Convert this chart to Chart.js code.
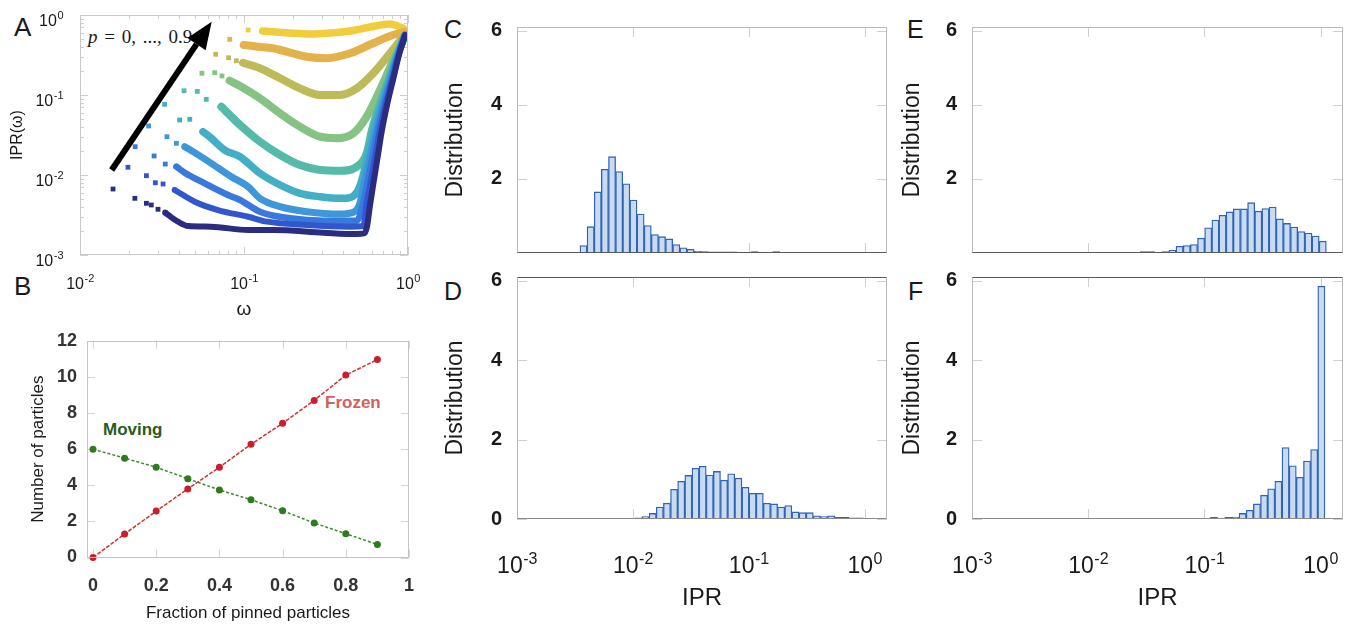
<!DOCTYPE html>
<html>
<head>
<meta charset="utf-8">
<script src="https://cdn.jsdelivr.net/npm/chart.js@4.4.0/dist/chart.umd.min.js"></script>
<style>
  body { margin: 0; background: #fff; }
  #page { position: relative; width: 1345px; height: 624px; overflow: hidden; font-family: "Liberation Sans", Arial, sans-serif; color: #1a1a1a; }
  canvas { position: absolute; }
  .lbl { position: absolute; white-space: nowrap; line-height: 1; }
</style>
</head>
<body>
<div id="page">
  <div class="lbl" style="left:14px;top:14px;font-size:26px">A</div>
  <div class="lbl" style="left:14px;top:273px;font-size:26px">B</div>
  <div class="lbl" style="left:444px;top:17px;font-size:25px">C</div>
  <div class="lbl" style="left:444px;top:279px;font-size:25px">D</div>
  <div class="lbl" style="left:907px;top:17px;font-size:25px">E</div>
  <div class="lbl" style="left:908px;top:279px;font-size:25px">F</div>
  <div class="lbl" style="left:88px;top:27px;font-size:19px;word-spacing:2px;font-family:'Liberation Serif',serif"><i>p</i> = 0, ..., 0.9</div>
  <div class="lbl" style="left:103px;top:421px;font-size:17px;font-weight:bold;color:#2b5b1c">Moving</div>
  <div class="lbl" style="left:325px;top:394px;font-size:17px;font-weight:bold;color:#d5605a">Frozen</div>

  <canvas id="chartA" width="440" height="325" style="left:0;top:0"></canvas>
  <canvas id="chartB" width="440" height="304" style="left:0;top:320px"></canvas>
  <canvas id="chartC" width="470" height="280" style="left:430px;top:0"></canvas>
  <canvas id="chartD" width="470" height="374" style="left:430px;top:250px"></canvas>
  <canvas id="chartE" width="455" height="280" style="left:890px;top:0"></canvas>
  <canvas id="chartF" width="455" height="374" style="left:890px;top:250px"></canvas>
</div>
<script>
// ---- panel A : IPR(omega), p = 0 ... 0.9  ([omega, IPR] pairs)
const omegaTicks = [0.01, 0.1, 1];
const omegaExponents = ['-2', '-1', '0'];
const iprTicks = [0.001, 0.01, 0.1, 1];
const iprExponents = ['-3', '-2', '-1', '0'];

const p0Sparse = [[0.0159,0.00668],[0.0216,0.00511],[0.0254,0.00443],[0.0272,0.00422],[0.0299,0.00373],[0.0331,0.00338]];
const p0Band = [[0.0331,0.00338],[0.0396,0.00261],[0.0456,0.0023],[0.0629,0.00226],[0.106,0.00205],[0.151,0.00205],[0.305,0.0019],[0.487,0.00183],[0.54,0.00186],[0.562,0.00225],[0.587,0.00422],[0.62,0.00866],[0.656,0.0178],[0.694,0.0365],[0.745,0.075],[0.81,0.154],[0.881,0.316],[0.959,0.562]];
const p1Sparse = [[0.0196,0.0125],[0.0254,0.0098],[0.0288,0.008],[0.0321,0.00772],[0.0378,0.00649]];
const p1Band = [[0.0378,0.00649],[0.0501,0.00464],[0.0694,0.00365],[0.106,0.00301],[0.138,0.00261],[0.241,0.00237],[0.443,0.00226],[0.534,0.0023],[0.558,0.00422],[0.595,0.00866],[0.634,0.0178],[0.675,0.0365],[0.729,0.075],[0.8,0.154],[0.876,0.316],[0.959,0.562]];
const p2Sparse = [[0.0217,0.0226],[0.0283,0.0173],[0.0331,0.0137],[0.0387,0.0127]];
const p2Band = [[0.0387,0.0127],[0.0435,0.0107],[0.0576,0.00787],[0.0799,0.00562],[0.0946,0.00487],[0.125,0.00348],[0.191,0.00288],[0.305,0.00268],[0.487,0.00268],[0.53,0.00422],[0.57,0.00866],[0.611,0.0178],[0.656,0.0365],[0.715,0.075],[0.789,0.154],[0.872,0.316],[0.959,0.562]];
const p3Sparse = [[0.0262,0.041],[0.0339,0.0301],[0.0387,0.0249],[0.0435,0.0226]];
const p3Band = [[0.0435,0.0226],[0.0489,0.0196],[0.0632,0.014],[0.0837,0.00952],[0.106,0.00714],[0.125,0.00511],[0.166,0.00402],[0.241,0.00348],[0.385,0.00325],[0.469,0.00345],[0.505,0.00422],[0.546,0.00866],[0.59,0.0178],[0.638,0.0365],[0.7,0.075],[0.779,0.154],[0.865,0.316],[0.959,0.562]];
const p4Sparse = [[0.0328,0.0765],[0.0405,0.0487],[0.0467,0.0497],[0.0562,0.0348]];
const p4Band = [[0.0562,0.0348],[0.0632,0.0288],[0.0762,0.0205],[0.0946,0.0169],[0.125,0.0105],[0.166,0.0075],[0.2195,0.0059],[0.2905,0.00535],[0.385,0.00511],[0.443,0.00523],[0.489,0.00613],[0.523,0.00866],[0.57,0.0178],[0.62,0.0365],[0.685,0.075],[0.768,0.154],[0.861,0.316],[0.959,0.562]];
const p5Sparse = [[0.0431,0.113],[0.0519,0.111],[0.0589,0.0883],[0.0727,0.0714]];
const p5Band = [[0.0727,0.0714],[0.0878,0.0487],[0.0946,0.0422],[0.125,0.0261],[0.166,0.0178],[0.2195,0.0133],[0.2905,0.01155],[0.385,0.0113],[0.487,0.0127],[0.56,0.0187],[0.603,0.0365],[0.671,0.075],[0.758,0.154],[0.856,0.316],[0.959,0.562]];
const p6Sparse = [[0.0554,0.187],[0.0663,0.19],[0.0734,0.173],[0.0818,0.151]];
const p6Band = [[0.0818,0.151],[0.0963,0.127],[0.125,0.091],[0.166,0.059],[0.2195,0.0402],[0.2905,0.0301],[0.367,0.0288],[0.464,0.0332],[0.56,0.0536],[0.675,0.1155],[0.814,0.274],[0.959,0.536]];
const p7Sparse = [[0.0672,0.323],[0.0806,0.292],[0.0898,0.268],[0.0986,0.253]];
const p7Band = [[0.0986,0.253],[0.125,0.216],[0.166,0.162],[0.2195,0.121],[0.2905,0.1],[0.385,0.1],[0.487,0.121],[0.614,0.187],[0.777,0.332],[0.936,0.536]];
const p8Sparse = [[0.0818,0.497],[0.0996,0.422]];
const p8Band = [[0.0996,0.422],[0.122,0.402],[0.15,0.384],[0.241,0.301],[0.319,0.288],[0.443,0.332],[0.612,0.443],[0.81,0.562],[0.959,0.618]];
const p9Sparse = [[0.106,0.649],[0.13,0.631]];
const p9Band = [[0.13,0.631],[0.15,0.618],[0.191,0.596],[0.252,0.579],[0.334,0.596],[0.443,0.631],[0.587,0.708],[0.777,0.772],[0.932,0.688]];

const arrowFrom = [0.0156, 0.01155];
const arrowTo = [0.0635, 0.824];

// ---- panel B
const pinnedFraction = [0, 0.1, 0.2, 0.3, 0.4, 0.5, 0.6, 0.7, 0.8, 0.9];
const frozenCount = [0, 1.3, 2.57, 3.8, 5.0, 6.27, 7.43, 8.7, 10.1, 10.96];
const movingCount = [6.0, 5.5, 5.0, 4.36, 3.74, 3.2, 2.59, 1.91, 1.32, 0.72];
const fractionTicks = [0, 0.2, 0.4, 0.6, 0.8, 1];
const fractionTickLabels = ['0', '0.2', '0.4', '0.6', '0.8', '1'];
const countTicks = [0, 2, 4, 6, 8, 10, 12];

// ---- panels C-F : histograms of IPR, bins of equal width in log10(IPR)
const binWidth = 0.0616;
const histCStart = -2.457;
const histC = [0.2, 0.71, 1.65, 2.26, 2.6, 2.2, 1.87, 1.43, 1.05, 0.74, 0.5, 0.44, 0.38, 0.23, 0.14, 0.1, 0.05, 0.04, 0.03, 0.03, 0.03, 0.03, 0, 0, 0.04, 0, 0, 0.04];
const histDStart = -1.983;
const histD = [0.03, 0.06, 0.14, 0.3, 0.4, 0.75, 0.95, 1.1, 1.28, 1.33, 1.11, 1.2, 0.98, 1.14, 1.03, 0.8, 0.65, 0.65, 0.4, 0.38, 0.3, 0.34, 0.18, 0.16, 0.16, 0.08, 0.06, 0.08, 0.04, 0.04, 0.03, 0.03];
const histEStart = -1.552;
const histE = [0.04, 0.04, 0, 0.04, 0.08, 0.18, 0.2, 0.23, 0.4, 0.68, 0.89, 1.02, 1.11, 1.19, 1.19, 1.36, 1.13, 1.2, 1.24, 0.92, 0.8, 0.7, 0.58, 0.54, 0.46, 0.32];
const histFStart = -0.948;
const histF = [0.04, 0, 0.04, 0.05, 0.14, 0.22, 0.38, 0.6, 0.76, 0.95, 1.8, 1.34, 1.05, 1.46, 1.75, 5.87];
const distTicksUpper = [2, 4, 6];
const distTicksLower = [0, 2, 4, 6];

const curveColors = ['#2b2c80', '#3157cc', '#3978dc', '#3d97d8', '#42afc4', '#55bba8', '#86c284', '#bdbb58', '#e4b24a', '#f1cd3c'];
const bandWidths = [6, 6, 6.5, 7, 7.5, 8, 8, 8, 8, 7.5];

Chart.defaults.font.family = '"Liberation Sans", Arial, sans-serif';
Chart.defaults.color = '#1a1a1a';
Chart.defaults.animation = false;
Chart.defaults.plugins.legend.display = false;
Chart.defaults.plugins.tooltip.enabled = false;

// box with small inward ticks, like the original plots
const framePlugin = {
  id: 'frame',
  defaults: { tickColor: '#cdcdcd', box: '#bdbdbd', len: 8, minor: false },
  beforeDatasetsDraw(chart, args, o) {
    const { ctx, chartArea: a } = chart;
    const marks = (scale, horizontal) => {
      const list = scale.ticks.map(t => [t.value, o.len]);
      if (o.minor && scale.type === 'logarithmic') {
        for (let e = Math.floor(Math.log10(scale.min)); e < Math.ceil(Math.log10(scale.max)); e++) {
          for (let k = 2; k < 10; k++) {
            const v = k * Math.pow(10, e);
            if (v > scale.min && v < scale.max) list.push([v, o.len / 2]);
          }
        }
      }
      list.forEach(([v, len]) => {
        const p = Math.round(scale.getPixelForValue(v)) + 0.5;
        if (horizontal) {
          ctx.moveTo(p, a.bottom); ctx.lineTo(p, a.bottom - len);
          ctx.moveTo(p, a.top); ctx.lineTo(p, a.top + len);
        } else {
          ctx.moveTo(a.left, p); ctx.lineTo(a.left + len, p);
          ctx.moveTo(a.right, p); ctx.lineTo(a.right - len, p);
        }
      });
    };
    ctx.save();
    ctx.strokeStyle = o.tickColor;
    ctx.lineWidth = 1;
    ctx.beginPath();
    marks(chart.scales.x, true);
    marks(chart.scales.y, false);
    ctx.stroke();
    ctx.restore();
  },
  afterDatasetsDraw(chart, args, o) {
    const { ctx, chartArea: a } = chart;
    const l = Math.round(a.left) + 0.5, r = Math.round(a.right) - 0.5;
    const t = Math.round(a.top) + 0.5, b = Math.round(a.bottom) - 0.5;
    const side = (c, x0, y0, x1, y1) => {
      ctx.strokeStyle = c;
      ctx.beginPath(); ctx.moveTo(x0, y0); ctx.lineTo(x1, y1); ctx.stroke();
    };
    ctx.save();
    ctx.lineWidth = 1;
    side(o.box, l, t, l, b);
    side(o.box, r, t, r, b);
    side(o.top || o.box, l, t, r, t);
    side(o.bottom || o.box, l, b, r, b);
    ctx.restore();
  }
};

// "10" with a raised exponent for the log-axis tick labels
const powerLabels = {
  id: 'powerLabels',
  afterDraw(chart, args, o) {
    const { ctx, chartArea: a } = chart;
    const fam = Chart.defaults.font.family;
    ['x', 'y'].forEach(axis => {
      const cfg = o[axis];
      if (!cfg) return;
      const scale = chart.scales[axis];
      const big = cfg.size, small = Math.round(cfg.size * 0.7);
      ctx.save();
      ctx.fillStyle = '#1a1a1a';
      ctx.textBaseline = 'middle';
      ctx.textAlign = 'left';
      scale.ticks.forEach((t, i) => {
        const p = scale.getPixelForValue(t.value);
        ctx.font = big + 'px ' + fam;
        const wb = ctx.measureText('10').width;
        ctx.font = small + 'px ' + fam;
        const we = ctx.measureText(cfg.exps[i]).width;
        let x0, yc;
        if (axis === 'x') { x0 = p - (wb + we) / 2; yc = a.bottom + cfg.pad; }
        else { x0 = a.left - cfg.pad - wb - we; yc = p + cfg.dy; }
        ctx.font = big + 'px ' + fam;
        ctx.fillText('10', x0, yc);
        ctx.font = small + 'px ' + fam;
        ctx.fillText(cfg.exps[i], x0 + wb + 0.5, yc - big * cfg.raise);
      });
      ctx.restore();
    });
  }
};
Chart.register(framePlugin, powerLabels);

const arrowPlugin = {
  id: 'arrow',
  afterDatasetsDraw(chart) {
    const { ctx, scales: { x, y } } = chart;
    const x0 = x.getPixelForValue(arrowFrom[0]), y0 = y.getPixelForValue(arrowFrom[1]);
    const x1 = x.getPixelForValue(arrowTo[0]), y1 = y.getPixelForValue(arrowTo[1]);
    const ang = Math.atan2(y1 - y0, x1 - x0);
    const head = 27, half = 11;
    const bx = x1 - head * Math.cos(ang), by = y1 - head * Math.sin(ang);
    ctx.save();
    ctx.strokeStyle = '#000';
    ctx.fillStyle = '#000';
    ctx.lineWidth = 6;
    ctx.beginPath(); ctx.moveTo(x0, y0); ctx.lineTo(bx, by); ctx.stroke();
    ctx.beginPath();
    ctx.moveTo(x1, y1);
    ctx.lineTo(bx + half * Math.sin(ang), by - half * Math.cos(ang));
    ctx.lineTo(bx - half * Math.sin(ang), by + half * Math.cos(ang));
    ctx.closePath(); ctx.fill();
    ctx.restore();
  }
};

const pts = arr => arr.map(([x, y]) => ({ x: x, y: y }));

// panel A
const sparseSets = [p0Sparse, p1Sparse, p2Sparse, p3Sparse, p4Sparse, p5Sparse, p6Sparse, p7Sparse, p8Sparse, p9Sparse];
const bandSets = [p0Band, p1Band, p2Band, p3Band, p4Band, p5Band, p6Band, p7Band, p8Band, p9Band];
const datasetsA = [];
for (let i = 0; i < 10; i++) {
  datasetsA.push({
    data: pts(sparseSets[i]), showLine: false, pointStyle: 'rect', pointRadius: 3.4,
    backgroundColor: curveColors[i], pointBackgroundColor: curveColors[i], pointBorderWidth: 0
  });
  datasetsA.push({
    data: pts(bandSets[i]), showLine: true, borderColor: curveColors[i], borderWidth: bandWidths[i],
    pointRadius: 0, cubicInterpolationMode: 'monotone', borderCapStyle: 'round', borderJoinStyle: 'round'
  });
}

new Chart(document.getElementById('chartA'), {
  type: 'scatter',
  data: { datasets: datasetsA },
  options: {
    responsive: false,
    layout: { padding: { top: 15, right: 32, left: 0, bottom: 0 } },
    scales: {
      x: {
        type: 'logarithmic', min: 0.01, max: 1,
        afterBuildTicks: s => { s.ticks = omegaTicks.map(v => ({ value: v })); },
        afterFit: s => { s.height = 70; },
        ticks: { display: false },
        grid: { display: false, drawTicks: false }, border: { display: false },
        title: { display: true, text: 'ω', font: { size: 19 }, padding: { top: 0, bottom: 4 } }
      },
      y: {
        type: 'logarithmic', min: 0.001, max: 1,
        afterBuildTicks: s => { s.ticks = iprTicks.map(v => ({ value: v })); },
        afterFit: s => { s.width = 80; },
        ticks: { display: false },
        grid: { display: false, drawTicks: false }, border: { display: false },
        title: { display: true, text: 'IPR(ω)', font: { size: 16 }, padding: { top: 8.4, bottom: 0 } }
      }
    },
    plugins: {
      frame: { minor: true, box: '#c8c8c8', tickColor: '#cfcfcf' },
      powerLabels: {
        x: { size: 16, pad: 30, exps: omegaExponents, raise: 0.4 },
        y: { size: 16, pad: 17, dy: 7, exps: iprExponents, raise: 0.4 }
      }
    }
  },
  plugins: [arrowPlugin]
});

// panel B
new Chart(document.getElementById('chartB'), {
  type: 'scatter',
  data: {
    datasets: [
      {
        data: pinnedFraction.map((f, i) => ({ x: f, y: frozenCount[i] })), showLine: true, clip: false,
        borderColor: '#d3302f', borderWidth: 1.5, borderDash: [4, 1.5],
        pointRadius: 3.5, pointBackgroundColor: '#c8202a', pointBorderWidth: 0
      },
      {
        data: pinnedFraction.map((f, i) => ({ x: f, y: movingCount[i] })), showLine: true, clip: false,
        borderColor: '#3f8a2a', borderWidth: 1.5, borderDash: [3, 2],
        pointRadius: 3.5, pointBackgroundColor: '#2f7a1e', pointBorderWidth: 0
      }
    ]
  },
  options: {
    responsive: false,
    layout: { padding: { top: 12.5, right: 31, left: 0, bottom: 0 } },
    scales: {
      x: {
        type: 'linear', min: -0.019, max: 1.0,
        afterBuildTicks: s => { s.ticks = fractionTicks.map(v => ({ value: v })); },
        afterFit: s => { s.height = 66.5; },
        ticks: { callback: (v, i) => fractionTickLabels[i], font: { size: 18, weight: 'bold' }, color: '#333', padding: 18, autoSkip: false, maxRotation: 0 },
        grid: { display: false, drawTicks: false }, border: { display: false },
        title: { display: true, text: 'Fraction of pinned particles', font: { size: 17 }, padding: { top: 0, bottom: 0 } }
      },
      y: {
        type: 'linear', min: 0, max: 12,
        afterBuildTicks: s => { s.ticks = countTicks.map(v => ({ value: v })); },
        afterFit: s => { s.width = 87; },
        ticks: { font: { size: 18, weight: 'bold' }, color: '#333', padding: 10 },
        grid: { display: false, drawTicks: false }, border: { display: false },
        title: { display: true, text: 'Number of particles', font: { size: 17 }, padding: { top: 27.8, bottom: 0 } }
      }
    },
    plugins: { frame: { box: '#c4c4c4', tickColor: '#d4d4d4' } }
  }
});

// panels C-F
function histogram(id, heights, startExp, lower, yWidth, titlePad, padRight) {
  const bins = heights.map((h, i) => ({ x: Math.pow(10, startExp + (i + 0.5) * binWidth), y: h }));
  return new Chart(document.getElementById(id), {
    type: 'bar',
    data: {
      datasets: [{
        data: bins, backgroundColor: '#c7dbf3', borderColor: '#3463b3', borderWidth: 1.35,
        borderSkipped: false, barPercentage: 1, categoryPercentage: 1
      }]
    },
    options: {
      responsive: false,
      layout: { padding: { top: lower ? 17.5 : 16, right: padRight, left: 0, bottom: 0 } },
      scales: {
        x: {
          type: 'logarithmic', min: 0.001, max: 1.56, offset: false,
          afterBuildTicks: s => { s.ticks = iprTicks.map(v => ({ value: v })); },
          afterFit: s => { s.height = lower ? 105 : 12.5; },
          ticks: { display: false },
          grid: { display: false, drawTicks: false, offset: false }, border: { display: false },
          title: { display: lower, text: 'IPR', font: { size: 24 }, padding: { top: 0, bottom: 11.6 } }
        },
        y: {
          type: 'linear', min: 0, max: 6.1,
          afterBuildTicks: s => { s.ticks = (lower ? distTicksLower : distTicksUpper).map(v => ({ value: v })); },
          afterFit: s => { s.width = yWidth; },
          ticks: { font: { size: 20, weight: 'bold' }, padding: 15 },
          grid: { display: false, drawTicks: false }, border: { display: false },
          title: { display: true, text: 'Distribution', font: { size: 23 }, padding: { top: titlePad, bottom: 0 } }
        }
      },
      plugins: {
        frame: {
          box: '#b9b9b9', tickColor: '#d0d0d0', len: 10,
          bottom: lower ? '#8a8a8a' : '#5a5a5a', top: lower ? '#5a5a5a' : '#b9b9b9'
        },
        powerLabels: lower ? { x: { size: 23, pad: 48, exps: iprExponents, raise: 0.32 } } : {}
      }
    }
  });
}

histogram('chartC', histC, histCStart, false, 87, 12.2, 13);
histogram('chartD', histD, histDStart, true, 87, 12.2, 13);
histogram('chartE', histE, histEStart, false, 82, 9.2, 2);
histogram('chartF', histF, histFStart, true, 82, 9.2, 2);
</script>
</body>
</html>
